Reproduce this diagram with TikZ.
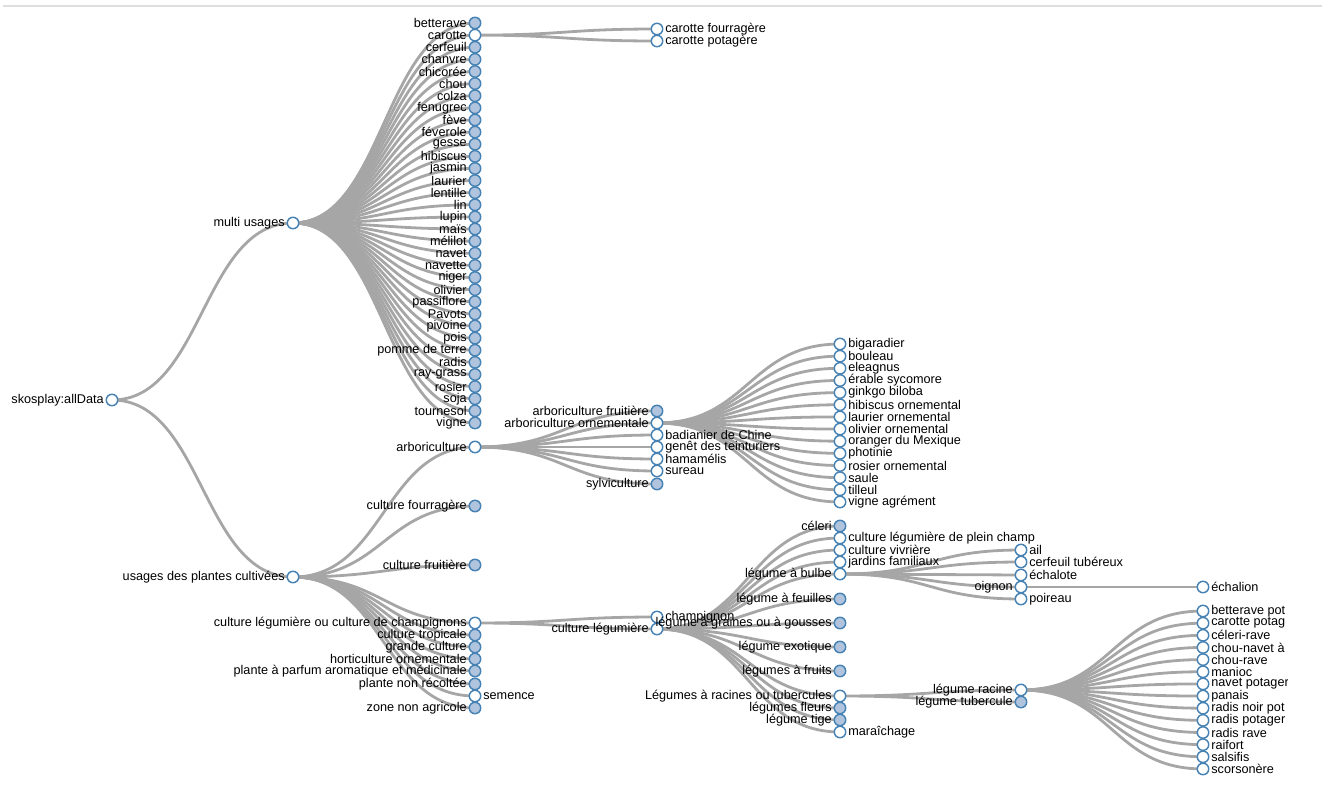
\documentclass[tikz,border=0pt]{standalone}
\usepackage{fontspec}
\setmainfont{Liberation Sans}
\usetikzlibrary{backgrounds}
\definecolor{nodeblue}{RGB}{70,130,180}
\definecolor{nodefill}{RGB}{176,196,222}
\definecolor{linkgray}{RGB}{166,166,166}
\definecolor{rulegray}{RGB}{222,222,222}

\begin{document}
\begin{tikzpicture}[x=0.75pt,y=-0.75pt,
  dot/.style={circle,draw=nodeblue,line width=1.1pt,fill=white,minimum size=8.6pt,inner sep=0pt},
  fold/.style={fill=nodefill},
  bare/.style={},
  every label/.style={font=\fontsize{9.5}{10}\selectfont,inner sep=1.2pt},
  label distance=0pt,
  link/.style={draw=linkgray,line width=2.1pt,to path={.. controls +(91,0) and +(-91,0) .. (\tikztotarget)}}]
\useasboundingbox (0,0) rectangle (1325,786);
\draw[rulegray,line width=1.5pt] (3,5.5) -- (1322,5.5); % top rule

% level 0 and 1
\node[dot,label={left:{skosplay:allData}}] (root) at (112,400) {};
\node[dot,label={left:multi usages}] (mu) at (293,223) {};
\node[dot,label={left:usages des plantes cultivées}] (up) at (293,577) {};

% multi usages
\foreach \t/\s [count=\i] in {betterave/fold,carotte/bare,cerfeuil/fold,chanvre/fold,chicorée/fold,chou/fold,colza/fold,fenugrec/fold,fève/fold,féverole/fold,gesse/fold,hibiscus/fold,jasmin/fold,laurier/fold,lentille/fold,lin/fold,lupin/fold,maïs/fold,mélilot/fold,navet/fold,navette/fold,niger/fold,olivier/fold,passiflore/fold,Pavots/fold,pivoine/fold,pois/fold,pomme de terre/fold,radis/fold,ray-grass/fold,rosier/fold,soja/fold,tournesol/fold,vigne/fold}
  \node[dot,\s,label={left:\t}] (mu\i) at (475,{23+(\i-1)*12.12}) {};
\node[dot,label={right:carotte fourragère}] (cf) at (657,29) {};
\node[dot,label={right:carotte potagère}] (cp) at (657,41) {};

% usages des plantes cultivees
\foreach \y/\t/\s/\p [count=\i] in {447/arboriculture/bare/left,506/culture fourragère/fold/left,565/culture fruitière/fold/left,623/culture légumière ou culture de champignons/bare/left,635/culture tropicale/fold/left,647/grande culture/fold/left,659/horticulture ornementale/fold/left,671/plante à parfum aromatique et médicinale/fold/left,684/plante non récoltée/fold/left,696/semence/bare/right,708/zone non agricole/fold/left}
  \node[dot,\s,label={\p:\t}] (uc\i) at (475,\y) {};

% arboriculture
\foreach \y/\t/\s/\p [count=\i] in {411/arboriculture fruitière/fold/left,423/arboriculture ornementale/bare/left,435/badianier de Chine/bare/right,447/genêt des teinturiers/bare/right,459/hamamélis/bare/right,471/sureau/bare/right,484/sylviculture/fold/left}
  \node[dot,\s,label={\p:\t}] (ab\i) at (657,\y) {};
\foreach \t [count=\i] in {bigaradier,bouleau,eleagnus,érable sycomore,ginkgo biloba,hibiscus ornemental,laurier ornemental,olivier ornemental,oranger du Mexique,photinie,rosier ornemental,saule,tilleul,vigne agrément}
  \node[dot,label={right:\t}] (orn\i) at (840,{344+(\i-1)*12.15}) {};

% culture legumiere
\node[dot,label={right:champignon}] (ch) at (657,617) {};
\node[dot,label={left:culture légumière}] (cl) at (657,629) {};
\foreach \y/\t/\s/\p [count=\i] in {526/céleri/fold/left,538/culture légumière de plein champ/bare/right,550/culture vivrière/bare/right,562/jardins familiaux/bare/right,574/légume à bulbe/bare/left,599/légume à feuilles/fold/left,623/légume à graines ou à gousses/fold/left,647/légume exotique/fold/left,671/légumes à fruits/fold/left,696/Légumes à racines ou tubercules/bare/left,708/légumes fleurs/fold/left,720/légume tige/fold/left,732/maraîchage/bare/right}
  \node[dot,\s,label={\p:\t}] (cl\i) at (840,\y) {};
\foreach \y/\t/\p [count=\i] in {550/ail/right,562/cerfeuil tubéreux/right,575/échalote/right,587/oignon/left,599/poireau/right}
  \node[dot,label={\p:\t}] (lb\i) at (1021,\y) {};
\node[dot,label={right:échalion}] (ech) at (1203,587) {};
\node[dot,label={left:légume racine}] (lr) at (1021,690) {};
\node[dot,fold,label={left:légume tubercule}] (lt) at (1021,702) {};
\begin{scope}
\clip (0,0) rectangle (1287,786);
\foreach \t [count=\i] in {betterave pot,carotte potag,céleri-rave,chou-navet à,chou-rave,manioc,navet potager,panais,radis noir pot,radis potager,radis rave,raifort,salsifis,scorsonère}
  \node[dot,label={right:\t}] (rt\i) at (1203,{611+(\i-1)*12.15}) {};
\end{scope}

% links
\begin{pgfonlayer}{background}
\draw[link] (root.center) to (mu.center) (root.center) to (up.center);
\foreach \i in {1,...,34} \draw[link] (mu.center) to (mu\i.center);
\draw[link] (mu2.center) to (cf.center) (mu2.center) to (cp.center);
\foreach \i in {1,...,11} \draw[link] (up.center) to (uc\i.center);
\foreach \i in {1,...,7} \draw[link] (uc1.center) to (ab\i.center);
\foreach \i in {1,...,14} \draw[link] (ab2.center) to (orn\i.center);
\draw[link] (uc4.center) to (ch.center) (uc4.center) to (cl.center);
\foreach \i in {1,...,13} \draw[link] (cl.center) to (cl\i.center);
\foreach \i in {1,...,5} \draw[link] (cl5.center) to (lb\i.center);
\draw[link] (lb4.center) to (ech.center);
\draw[link] (cl10.center) to (lr.center) (cl10.center) to (lt.center);
\foreach \i in {1,...,14} \draw[link] (lr.center) to (rt\i.center);
\end{pgfonlayer}
\end{tikzpicture}
\end{document}
